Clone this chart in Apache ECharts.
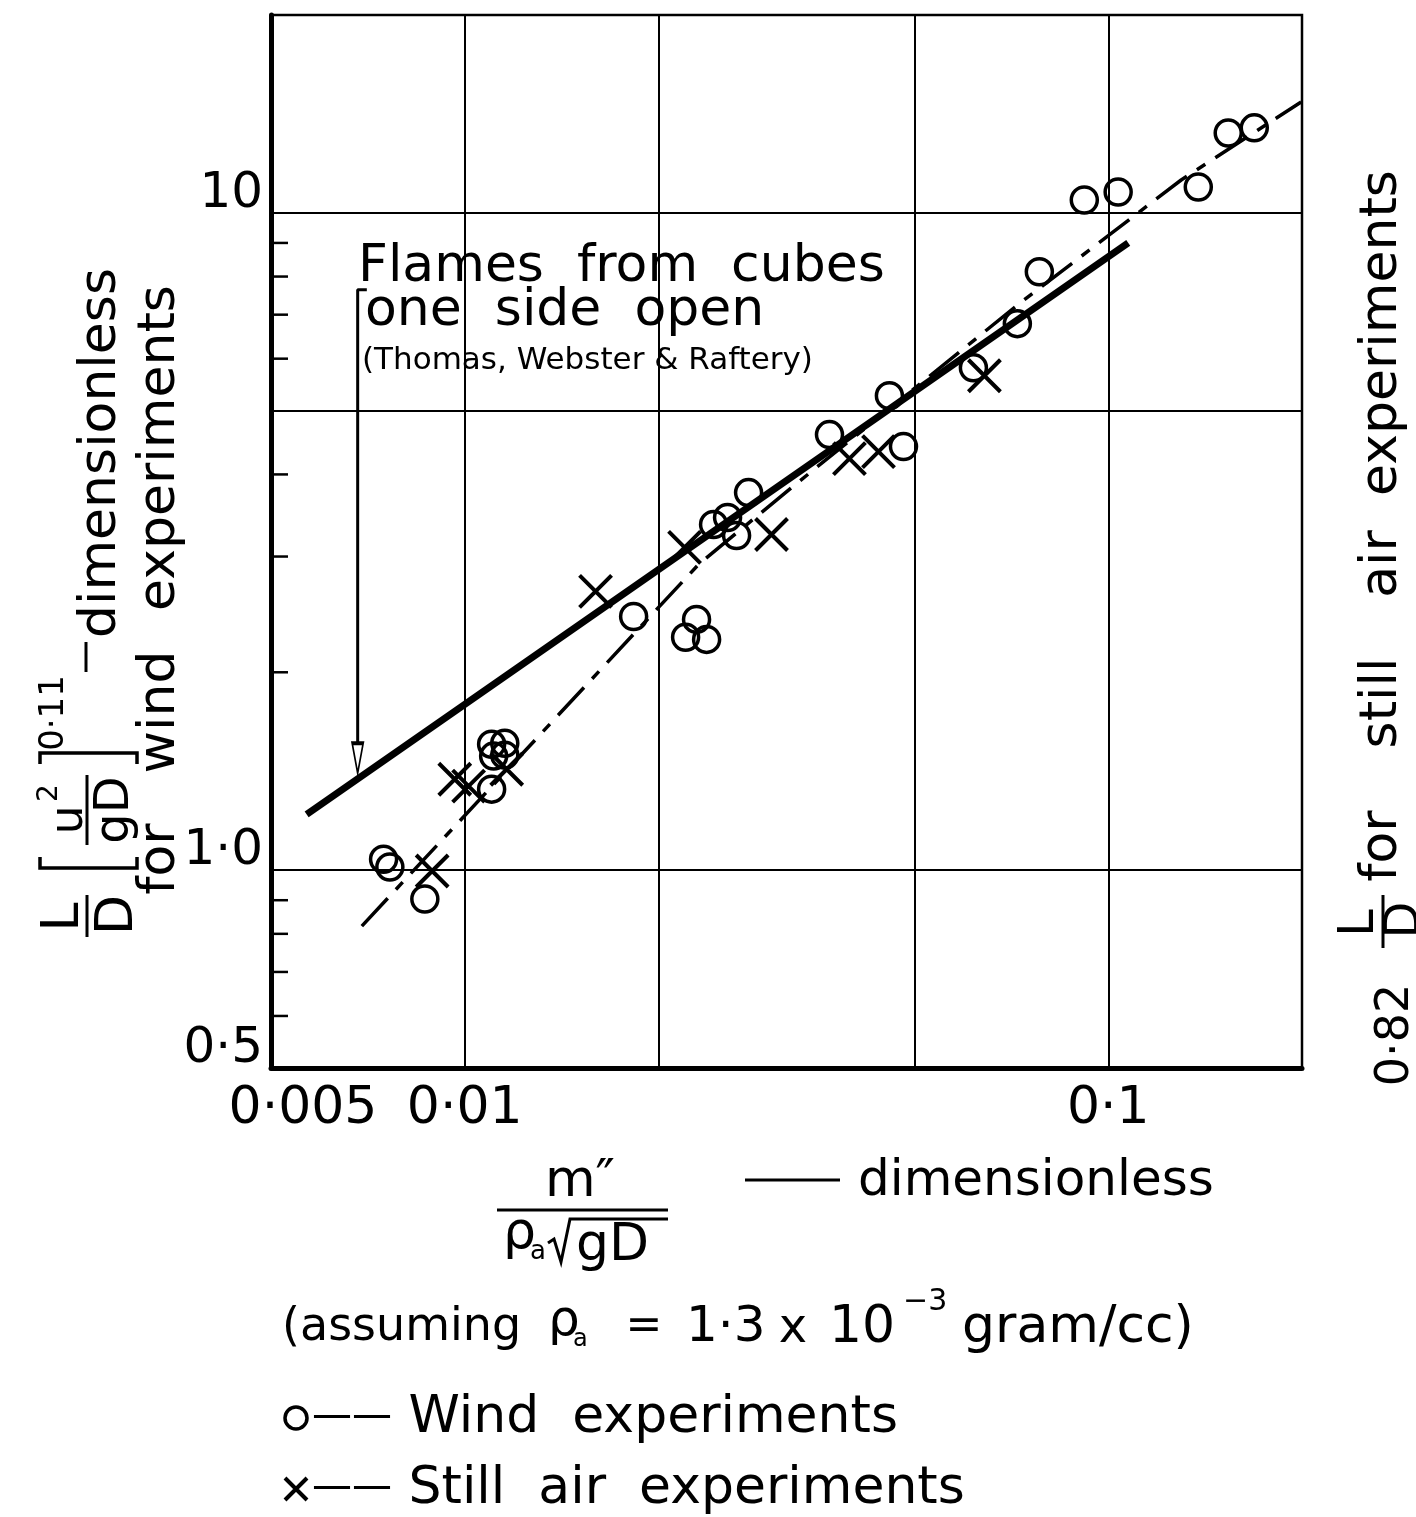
<!DOCTYPE html>
<html><head><meta charset="utf-8">
<script src="https://cdn.jsdelivr.net/npm/echarts@6/dist/echarts.min.js"></script>
<style>html,body{margin:0;padding:0;background:#fff}#c{width:1416px;height:1517px}</style>
</head><body><div id="c"></div>
<script>
// ---- data ----
const windX = [0.00748, 0.00765, 0.00867, 0.01101, 0.01154, 0.01109, 0.01154, 0.01101, 0.0183, 0.02292, 0.02204, 0.02376, 0.02436, 0.02561, 0.02645, 0.02761, 0.03688, 0.04806, 0.0457, 0.06172, 0.07223, 0.07814, 0.09178, 0.1036, 0.138, 0.1536, 0.1686];
const windY = [1.039, 1.011, 0.904, 1.554, 1.560, 1.491, 1.496, 1.328, 2.432, 2.407, 2.261, 2.244, 3.356, 3.439, 3.229, 3.753, 4.599, 4.410, 5.271, 5.812, 6.783, 8.135, 10.46, 10.76, 10.95, 13.23, 13.47];
const stillX = [0.0089, 0.00965, 0.01014, 0.01162, 0.01597, 0.02196, 0.02997, 0.03961, 0.04395, 0.0642];
const stillY = [0.997, 1.375, 1.342, 1.424, 2.655, 3.097, 3.241, 4.228, 4.333, 5.652];
const windFitX = [0.00568, 0.1074];
const windFitY = [1.216, 9.0];
const stillFitX = [0.00692, 0.0231, 0.0322, 0.0733, 0.1298, 0.1994];
const stillFitY = [0.822, 2.92, 3.82, 7.32, 11.22, 14.75];
const arrowX = [0.007045, 0.006818, 0.006818];
const arrowY = [7.64, 7.64, 1.48];
const xLabelValues = [0.005, 0.01, 0.1];
const xLabelTexts = ['0·005', '0·01', '0·1'];
const yLabelValues = [0.5, 1, 10];
const yLabelTexts = ['0·5', '1·0', '10'];
const xExtraGrid = [0.02, 0.05];
const yExtraGrid = [5];
const yMinorTicks = [0.6, 0.7, 0.8, 0.9, 2, 3, 4, 6, 7, 8, 9];
const seriesNames = ['Wind  experiments', 'Still  air  experiments'];
const X_MIN = 0.005, X_MAX = 0.2, Y_MIN = 0.5, Y_MAX = 20;

const FONT = 'DejaVu Sans';
function pick(values, texts, v) {
  for (let i = 0; i < values.length; i++) {
    if (Math.abs(Math.log10(v) - Math.log10(values[i])) < 1e-4) return texts[i];
  }
  return '';
}
function T(x, y, text, size, align, extra) {
  return { type: 'text', x: x, y: y, silent: true,
    style: Object.assign({ text: text, fontSize: size, fontFamily: FONT, fill: '#000',
      align: align || 'left', verticalAlign: 'middle' }, extra || {}) };
}
function L(points, w) {
  return { type: 'polyline', silent: true, shape: { points: points },
    style: { stroke: '#000', lineWidth: w || 3, fill: null } };
}
const zip = (a, b) => a.map((v, i) => [v, b[i]]);

const chart = echarts.init(document.getElementById('c'), null, { renderer: 'canvas' });
const option = {
  animation: false,
  backgroundColor: '#fff',
  grid: { left: 271, right: 114, top: 15, bottom: 449, show: true, borderColor: '#000', borderWidth: 2.5,
          backgroundColor: 'transparent', containLabel: false, outerBoundsMode: 'none' },
  xAxis: {
    type: 'log', logBase: 10, min: X_MIN, max: X_MAX, position: 'bottom',
    axisLine: { show: true, lineStyle: { color: '#000', width: 5 } },
    axisTick: { show: false },
    splitLine: { show: true, lineStyle: { color: '#000', width: 2 } },
    minorTick: { show: false }, minorSplitLine: { show: false },
    axisLabel: {
      show: true, margin: 15, color: '#000', fontFamily: FONT, fontSize: 52, lineHeight: 52,
      verticalAlign: 'top',
      formatter: function (v) {
        const t = pick(xLabelValues, xLabelTexts, v);
        if (t && Math.abs(Math.log10(v) - Math.log10(X_MIN)) < 1e-4) return '{m|' + t + '}';
        return t;
      },
      rich: { m: { fontFamily: FONT, fontSize: 52, lineHeight: 52, color: '#000', padding: [0, 0, 0, 64] } }
    }
  },
  yAxis: {
    type: 'log', logBase: 10, min: Y_MIN, max: Y_MAX, position: 'left',
    axisLine: { show: true, lineStyle: { color: '#000', width: 5 } },
    axisTick: { show: false },
    splitLine: { show: true, lineStyle: { color: '#000', width: 2 } },
    minorTick: { show: false }, minorSplitLine: { show: false },
    axisLabel: {
      show: true, margin: 8, color: '#000', fontFamily: FONT, fontSize: 50, lineHeight: 38,
      verticalAlign: 'bottom', verticalAlignMinLabel: 'bottom', verticalAlignMaxLabel: 'bottom',
      formatter: function (v) { return pick(yLabelValues, yLabelTexts, v); }
    }
  },
  legend: {
    orient: 'vertical', left: 283, top: 1392, padding: 0, itemWidth: 22, itemHeight: 22, itemGap: 19,
    selectedMode: false,
    textStyle: { fontFamily: FONT, fontSize: 52, lineHeight: 50, color: '#000',
      rich: { d: { fontFamily: FONT, fontSize: 40, color: '#000' } } },
    formatter: function (name) { return '{d|——} ' + name; },
    data: [
      { name: seriesNames[0], icon: 'circle',
        itemStyle: { color: 'rgba(0,0,0,0)', borderColor: '#000', borderWidth: 3.5 } },
      { name: seriesNames[1], icon: 'path://M0,0L10,10M10,0L0,10',
        itemStyle: { color: 'rgba(0,0,0,0)', borderColor: '#000', borderWidth: 4 } }
    ]
  },
  series: [
    {
      name: 'minor ticks', type: 'custom', silent: true, clip: false,
      data: yMinorTicks.map(v => [X_MIN, v]),
      renderItem: function (params, api) {
        const p = api.coord([api.value(0), api.value(1)]);
        return { type: 'line', shape: { x1: p[0], y1: p[1], x2: p[0] + 17, y2: p[1] },
                 style: { stroke: '#000', lineWidth: 2.5 } };
      },
      z: 1
    },
    {
      name: 'wind fit', type: 'line', data: zip(windFitX, windFitY), symbol: 'none', silent: true,
      lineStyle: { color: '#000', width: 7 }, z: 3,
      markLine: {
        silent: true, symbol: 'none', label: { show: false }, animation: false,
        lineStyle: { color: '#000', width: 2, type: 'solid' },
        emphasis: { disabled: true },
        data: xExtraGrid.map(v => ({ xAxis: v })).concat(yExtraGrid.map(v => ({ yAxis: v })))
      }
    },
    {
      name: 'still fit', type: 'line', data: zip(stillFitX, stillFitY), symbol: 'none', silent: true,
      lineStyle: { color: '#000', width: 3.5, type: [38, 12, 10, 12] }, z: 3
    },
    {
      name: 'arrow', type: 'line', silent: true, z: 3,
      data: arrowX.map((x, i) => i === arrowX.length - 1
        ? { value: [x, arrowY[i]], symbol: 'triangle', symbolSize: [11, 30], symbolRotate: 180 }
        : { value: [x, arrowY[i]], symbol: 'none' }),
      lineStyle: { color: '#000', width: 3 },
      itemStyle: { color: '#fff', borderColor: '#000', borderWidth: 2.5 }
    },
    {
      name: seriesNames[0], type: 'scatter', data: zip(windX, windY), symbol: 'circle', symbolSize: 26,
      itemStyle: { color: 'rgba(0,0,0,0)', borderColor: '#000', borderWidth: 3.5, opacity: 1 }, z: 4
    },
    {
      name: seriesNames[1], type: 'scatter', data: zip(stillX, stillY),
      symbol: 'path://M0,0L10,10M10,0L0,10', symbolSize: 32,
      itemStyle: { color: 'rgba(0,0,0,0)', borderColor: '#000', borderWidth: 4, opacity: 1 }, z: 4
    }
  ],
  graphic: [
    // annotation
    T(358, 267, 'Flames  from  cubes', 52),
    T(365, 311, 'one  side  open', 52),
    T(362, 361, '(Thomas, Webster & Raftery)', 31),
    // left axis title (rotated, reads bottom to top)
    { type: 'group', x: 0, y: 1000, rotation: Math.PI / 2, silent: true, children: [
      T(83, 64, 'L', 52, 'center'),
      L([[63, 87], [105, 87]], 3),
      T(85, 118, 'D', 52, 'center'),
      L([[143, 40], [132, 40], [132, 137], [143, 137]], 3.5),
      T(180, 70, 'u', 46, 'center'),
      T(207, 50, '2', 28, 'center'),
      L([[155, 87], [225, 87]], 3),
      T(190, 116, 'gD', 48, 'center'),
      L([[236, 40], [247, 40], [247, 137], [236, 137]], 3.5),
      T(287, 54, '0·11', 34, 'center'),
      L([[328, 86], [358, 86]], 3),
      T(547, 101, 'dimensionless', 52, 'center'),
      T(141, 160, 'for', 52, 'center'),
      T(288, 160, 'wind', 52, 'center'),
      T(552, 160, 'experiments', 52, 'center')
    ] },
    // right axis title
    { type: 'group', x: 1300, y: 1100, rotation: Math.PI / 2, silent: true, children: [
      T(65, 96, '0·82', 46, 'center'),
      T(177, 60, 'L', 50, 'center'),
      L([[152, 83], [205, 83]], 3),
      T(180, 106, 'D', 48, 'center'),
      T(254, 82, 'for', 52, 'center'),
      T(397, 82, 'still', 52, 'center'),
      T(536, 82, 'air', 52, 'center'),
      T(767, 82, 'experiments', 52, 'center')
    ] },
    // x axis title
    T(580, 1182, 'm″', 52, 'center'),
    L([[497, 1210], [668, 1210]], 3),
    T(503, 1234, 'ρ', 52),
    T(530, 1252, 'a', 26),
    L([[548, 1243], [554, 1239], [561, 1262], [570, 1219], [668, 1219]], 3),
    T(576, 1246, 'gD', 52),
    L([[745, 1180], [840, 1180]], 3),
    T(858, 1182, 'dimensionless', 50),
    // assumption line
    T(282, 1328, '(assuming', 46),
    T(548, 1322, 'ρ', 50),
    T(573, 1340, 'a', 24),
    T(644, 1328, '=', 44, 'center'),
    T(686, 1328, '1·3', 50),
    T(793, 1330, 'x', 48, 'center'),
    T(829, 1328, '10', 52),
    T(903, 1302, '−3', 30),
    T(962, 1328, 'gram/cc)', 52)
  ]
};
chart.setOption(option);
</script>
</body></html>
